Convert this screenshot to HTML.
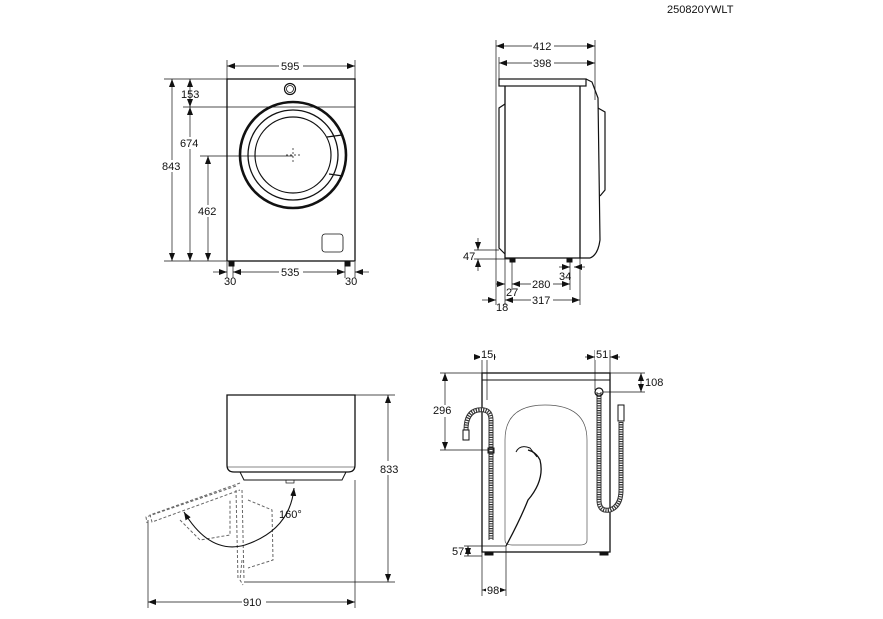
<!DOCTYPE html>
<html><head><meta charset="utf-8"><style>
html,body{margin:0;padding:0;background:#fff;}
svg{display:block;font-family:"Liberation Sans",Arial,sans-serif;}
text{font-size:11px;fill:#111;}
</style></head><body>
<svg width="883" height="619" viewBox="0 0 883 619" xmlns="http://www.w3.org/2000/svg">
<defs>
<marker id="a" markerWidth="8" markerHeight="6" refX="8" refY="3" orient="auto-start-reverse" markerUnits="userSpaceOnUse"><path d="M0,0 L8,3 L0,6 z" fill="#111"/></marker>
</defs>
<text x="667" y="13" style="font-size:11px">250820YWLT</text>

<g stroke="#111" fill="none">
<!-- FRONT VIEW -->
<rect x="227" y="79" width="128" height="182" stroke-width="1.3"/>
<line x1="227" y1="107" x2="355" y2="107" stroke-width="0.8"/>
<circle cx="290" cy="89" r="5.5" stroke-width="1.2"/><circle cx="290" cy="89" r="3.5" stroke-width="0.8"/>
<circle cx="293" cy="155" r="53" stroke-width="2.6"/>
<circle cx="293" cy="155" r="45" stroke-width="1.3"/>
<circle cx="293" cy="155" r="38" stroke-width="1.2"/>
<path d="M327,137 L342,135 M329,174 L343,176" stroke-width="1.2"/>
<path d="M286,155 h14 M293,148 v14" stroke-width="0.7" stroke-dasharray="2,2"/>
<rect x="322" y="234" width="21" height="18" rx="3" stroke-width="0.8"/>
<rect x="229" y="261" width="5" height="5" fill="#111"/><rect x="345" y="261" width="5" height="5" fill="#111"/>
<g stroke-width="0.7">
<line x1="227" y1="60" x2="227" y2="79"/><line x1="355" y1="60" x2="355" y2="79"/>
<line x1="227" y1="66" x2="355" y2="66" marker-start="url(#a)" marker-end="url(#a)"/>
<line x1="164" y1="79" x2="227" y2="79"/><line x1="164" y1="261" x2="227" y2="261"/>
<line x1="183" y1="107" x2="227" y2="107"/><line x1="200" y1="156" x2="293" y2="156"/>
<line x1="172" y1="79" x2="172" y2="261" marker-start="url(#a)" marker-end="url(#a)"/>
<line x1="190" y1="79" x2="190" y2="107" marker-start="url(#a)" marker-end="url(#a)"/>
<line x1="190" y1="107" x2="190" y2="261" marker-start="url(#a)" marker-end="url(#a)"/>
<line x1="208" y1="156" x2="208" y2="261" marker-start="url(#a)" marker-end="url(#a)"/>
<line x1="233" y1="262" x2="233" y2="278"/><line x1="345" y1="262" x2="345" y2="278"/>
<line x1="227" y1="262" x2="227" y2="278"/><line x1="355" y1="262" x2="355" y2="278"/>
<line x1="233" y1="272" x2="345" y2="272" marker-start="url(#a)" marker-end="url(#a)"/>
<line x1="213" y1="272" x2="227" y2="272" marker-end="url(#a)"/>
<line x1="369" y1="272" x2="355" y2="272" marker-end="url(#a)"/>
</g>

<!-- SIDE VIEW -->
<rect x="499" y="79" width="87" height="7" stroke-width="1.2"/>
<path d="M505,86 V258 H580 V86" stroke-width="1.3"/>
<path d="M586,79 L592,82 L598,98 L600,240 Q598,255 590,258 H580" stroke-width="1.2"/>
<path d="M598,108 L605,112 V190 L600,196" stroke-width="1.2"/>
<path d="M505,104 L499,108 V248 L505,254" stroke-width="1.2"/>
<rect x="510" y="258" width="5" height="4" fill="#111"/><rect x="567" y="258" width="5" height="4" fill="#111"/>
<g stroke-width="0.7">
<line x1="496" y1="40" x2="496" y2="305"/><line x1="595" y1="40" x2="595" y2="100"/>
<line x1="499" y1="57" x2="499" y2="79"/>
<line x1="496" y1="46" x2="595" y2="46" marker-start="url(#a)" marker-end="url(#a)"/>
<line x1="499" y1="63" x2="595" y2="63" marker-start="url(#a)" marker-end="url(#a)"/>
<line x1="474" y1="250" x2="499" y2="250"/><line x1="474" y1="259" x2="510" y2="259"/>
<line x1="478" y1="238" x2="478" y2="250" marker-end="url(#a)"/>
<line x1="478" y1="271" x2="478" y2="259" marker-end="url(#a)"/>
<line x1="505" y1="258" x2="505" y2="305"/><line x1="512" y1="262" x2="512" y2="290"/>
<line x1="570" y1="262" x2="570" y2="290"/><line x1="580" y1="258" x2="580" y2="305"/>
<line x1="512" y1="284" x2="570" y2="284" marker-start="url(#a)" marker-end="url(#a)"/>
<line x1="505" y1="300" x2="580" y2="300" marker-start="url(#a)" marker-end="url(#a)"/>
<line x1="496" y1="284" x2="505" y2="284" marker-end="url(#a)"/>
<line x1="482" y1="300" x2="496" y2="300" marker-end="url(#a)"/>
<line x1="559" y1="267" x2="570" y2="267" marker-end="url(#a)"/>
<line x1="585" y1="267" x2="574" y2="267" marker-end="url(#a)"/>
</g>

<!-- TOP VIEW -->
<path d="M227,395 H355 V465 Q355,472 348,472 H234 Q227,472 227,465 Z" stroke-width="1.3"/>
<line x1="227" y1="467" x2="355" y2="467" stroke-width="0.6"/>
<path d="M240,472 L244,480 H342 L346,472" stroke-width="1"/>
<rect x="286" y="480" width="8" height="3" stroke-width="0.7"/>
<g stroke-width="1" stroke-dasharray="3,2" stroke="#666">
<path d="M240,483 L150,515 L152,522 L240,490"/>
<path d="M236,486 L146,517 L147,523"/>
<path d="M242,490 L244,580 M236,490 L238,580"/>
<path d="M180,520 L200,540 L230,535 L230,500"/>
<path d="M248,500 L272,510 L273,560 L248,568"/>
<path d="M242,560 L240,580 L243,585"/>
</g>
<path d="M184,512 Q210,555 245,545 Q290,530 294,488" stroke-width="1.1" marker-start="url(#a)" marker-end="url(#a)"/>
<g stroke-width="0.7">
<line x1="355" y1="395" x2="395" y2="395"/><line x1="244" y1="582" x2="395" y2="582"/>
<line x1="388" y1="395" x2="388" y2="582" marker-start="url(#a)" marker-end="url(#a)"/>
<line x1="148" y1="520" x2="148" y2="608"/><line x1="355" y1="480" x2="355" y2="608"/>
<line x1="148" y1="602" x2="355" y2="602" marker-start="url(#a)" marker-end="url(#a)"/>
</g>

<!-- BACK VIEW -->
<rect x="482" y="373" width="128" height="179" stroke-width="1.3"/>
<line x1="482" y1="380" x2="610" y2="380" stroke-width="1"/>
<path d="M505,540 V440 Q505,405 545,405 Q587,405 587,440 V540 Q587,545 580,545 H512 Q505,545 505,540Z" stroke-width="0.7" stroke="#555"/>
<rect x="485" y="552" width="8" height="3" fill="#111"/><rect x="600" y="552" width="8" height="3" fill="#111"/>
<g stroke-width="5" stroke="#333">
<path d="M491,540 V420 Q491,408 478,410 Q466,412 466,430" />
<path d="M599,392 V500 Q599,512 610,510 Q621,506 621,490 V422"/>
</g>
<g stroke-width="3" stroke="#fff" stroke-dasharray="1.2,1.2">
<path d="M491,540 V420 Q491,408 478,410 Q466,412 466,430" />
<path d="M599,392 V500 Q599,512 610,510 Q621,506 621,490 V422"/>
</g>
<rect x="463" y="430" width="6" height="10" stroke-width="1"/>
<rect x="618" y="405" width="6" height="16" stroke-width="1"/>
<circle cx="599" cy="392" r="4" stroke-width="1.2"/>
<rect x="488" y="448" width="6" height="5" stroke-width="1"/>
<path d="M506,546 Q520,520 528,500 Q545,480 540,460 Q536,452 528,450" stroke-width="1.3"/>
<path d="M516,452 Q520,444 530,448 L537,457" stroke-width="1"/>
<g stroke-width="0.7">
<line x1="482" y1="350" x2="482" y2="373"/><line x1="487" y1="350" x2="487" y2="400"/>
<line x1="474" y1="357" x2="482" y2="357" marker-end="url(#a)"/>
<line x1="496" y1="357" x2="487" y2="357" marker-end="url(#a)"/>
<line x1="595" y1="350" x2="595" y2="390"/><line x1="610" y1="350" x2="610" y2="373"/>
<line x1="585" y1="357" x2="595" y2="357" marker-end="url(#a)"/>
<line x1="620" y1="357" x2="610" y2="357" marker-end="url(#a)"/>
<line x1="440" y1="373" x2="482" y2="373"/><line x1="440" y1="450" x2="488" y2="450"/>
<line x1="445" y1="373" x2="445" y2="450" marker-start="url(#a)" marker-end="url(#a)"/>
<line x1="610" y1="373" x2="645" y2="373"/><line x1="603" y1="392" x2="645" y2="392"/>
<line x1="641" y1="373" x2="641" y2="392" marker-start="url(#a)" marker-end="url(#a)"/>
<line x1="464" y1="546" x2="506" y2="546"/><line x1="464" y1="556" x2="482" y2="556"/>
<line x1="468" y1="546" x2="468" y2="556" marker-start="url(#a)" marker-end="url(#a)"/>
<line x1="482" y1="552" x2="482" y2="596"/><line x1="506" y1="546" x2="506" y2="596"/>
<line x1="482" y1="590" x2="506" y2="590" marker-start="url(#a)" marker-end="url(#a)"/>
</g>
</g>

<g>
<rect x="279" y="60" width="24" height="12" fill="#fff"/><text x="281" y="70">595</text>
<text x="181" y="98">153</text>
<rect x="180" y="137" width="22" height="12" fill="#fff"/><text x="180" y="147">674</text>
<rect x="162" y="160" width="22" height="12" fill="#fff"/><text x="162" y="170">843</text>
<rect x="197" y="205" width="22" height="12" fill="#fff"/><text x="198" y="215">462</text>
<rect x="279" y="266" width="24" height="12" fill="#fff"/><text x="281" y="276">535</text>
<text x="224" y="285">30</text><text x="345" y="285">30</text>
<rect x="532" y="40" width="22" height="12" fill="#fff"/><text x="533" y="50">412</text>
<rect x="532" y="57" width="22" height="12" fill="#fff"/><text x="533" y="67">398</text>
<text x="463" y="260">47</text>
<text x="559" y="280">34</text>
<rect x="531" y="278" width="22" height="12" fill="#fff"/><text x="532" y="288">280</text>
<text x="506" y="296">27</text>
<rect x="531" y="294" width="22" height="12" fill="#fff"/><text x="532" y="304">317</text>
<text x="496" y="311">18</text>
<rect x="380" y="461" width="22" height="14" fill="#fff"/><text x="380" y="473">833</text>
<text x="279" y="518">160°</text>
<rect x="242" y="596" width="24" height="12" fill="#fff"/><text x="243" y="606">910</text>
<rect x="480" y="349" width="14" height="11" fill="#fff"/><text x="481" y="358">15</text>
<rect x="595" y="349" width="14" height="11" fill="#fff"/><text x="596" y="358">51</text>
<text x="645" y="386">108</text>
<rect x="432" y="405" width="22" height="12" fill="#fff"/><text x="433" y="414">296</text>
<text x="452" y="555">57</text>
<rect x="486" y="584" width="14" height="11" fill="#fff"/><text x="487" y="594">98</text>
</g>
</svg>
</body></html>
